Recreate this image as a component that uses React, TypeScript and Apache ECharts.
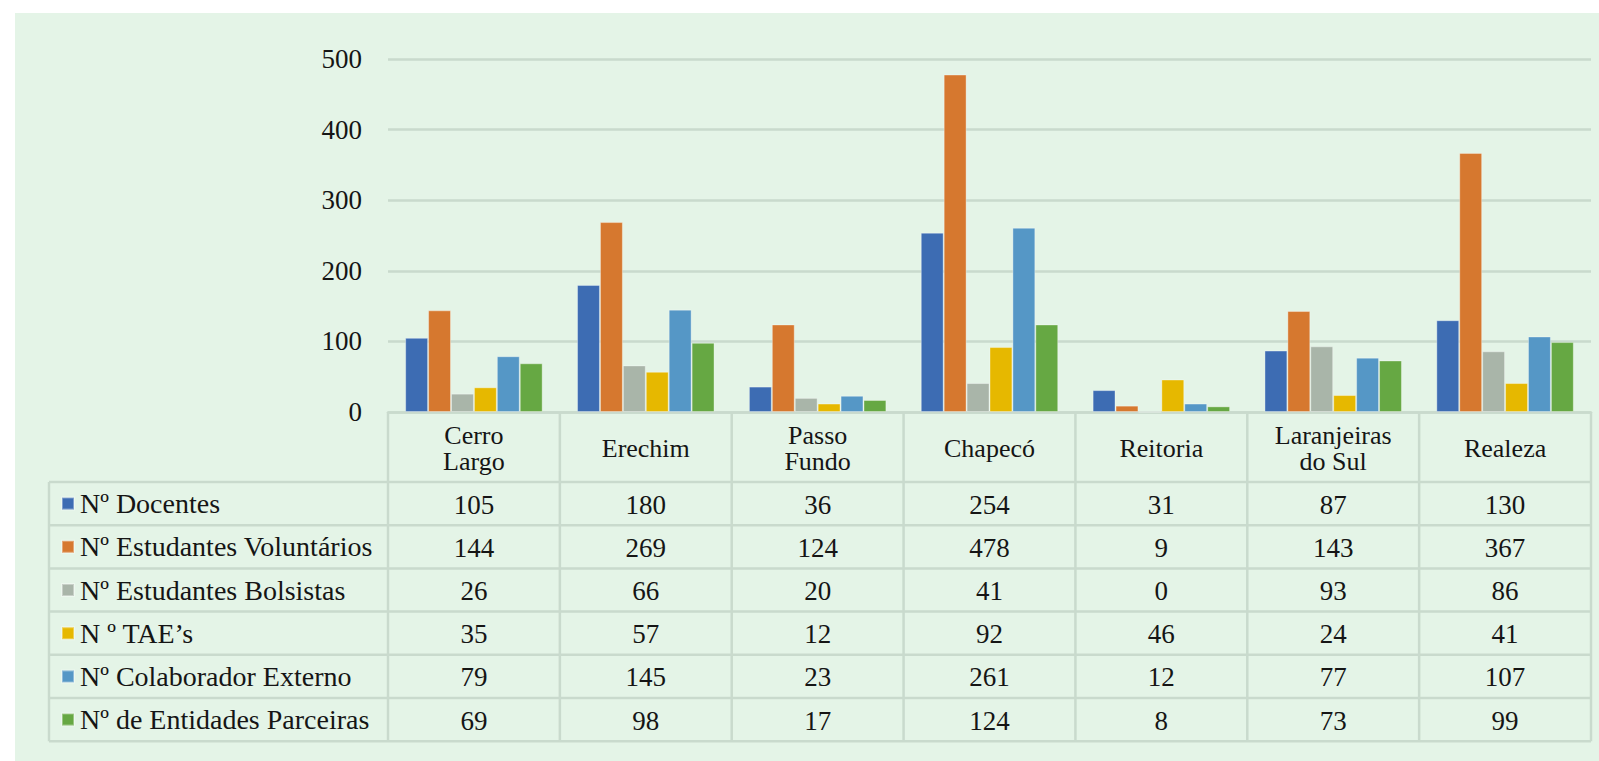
import React, { useEffect, useRef } from "react";
import * as echarts from "echarts";

const categories = ["Cerro\nLargo", "Erechim", "Passo\nFundo", "Chapecó", "Reitoria", "Laranjeiras\ndo Sul", "Realeza"];
const seriesNames = [
  "Nº Docentes",
  "Nº Estudantes Voluntários",
  "Nº Estudantes Bolsistas",
  "N º TAE’s",
  "Nº Colaborador Externo",
  "Nº de Entidades Parceiras",
];
const docentes = [105, 180, 36, 254, 31, 87, 130];
const voluntarios = [144, 269, 124, 478, 9, 143, 367];
const bolsistas = [26, 66, 20, 41, 0, 93, 86];
const taes = [35, 57, 12, 92, 46, 24, 41];
const colaborador = [79, 145, 23, 261, 12, 77, 107];
const entidades = [69, 98, 17, 124, 8, 73, 99];
const seriesValues = [docentes, voluntarios, bolsistas, taes, colaborador, entidades];
const colors = ["#3D6CB3", "#D6782F", "#A9B5A9", "#E6B800", "#5597C6", "#66A843"];

const FONT = "'Liberation Serif', 'Times New Roman', serif";
const W = 1599;
const H = 761;
const gridLeft = 388;
const gridRight = 1591;
const gridTop = 59;
const axisY = 412;
const headerBottom = 482;
const rowH = 43.2;
const tableLeft = 49;
const lineColor = "#C9DACD";
const textColor = "#151515";

export default function App() {
  const ref = useRef<HTMLDivElement>(null);
  useEffect(() => {
    document.body.style.margin = "0";
    const chart = echarts.init(ref.current!, null, { renderer: "svg" });
    const colW = (gridRight - gridLeft) / categories.length;
    const graphics: any[] = [];
    graphics.push({
      type: "rect",
      z: -100,
      shape: { x: 15, y: 13, width: W - 15, height: H - 13 },
      style: { fill: "#E4F4E7" },
    });
    // table horizontal lines
    for (let r = 0; r <= seriesNames.length; r++) {
      const y = headerBottom + r * rowH;
      graphics.push({
        type: "line",
        shape: { x1: tableLeft, y1: y, x2: gridRight, y2: y },
        style: { stroke: lineColor, lineWidth: 2.5 },
      });
    }
    // vertical lines
    graphics.push({
      type: "line",
      shape: { x1: tableLeft, y1: headerBottom, x2: tableLeft, y2: headerBottom + rowH * seriesNames.length },
      style: { stroke: lineColor, lineWidth: 2.5 },
    });
    for (let c = 0; c <= categories.length; c++) {
      const x = gridLeft + c * colW;
      graphics.push({
        type: "line",
        shape: { x1: x, y1: axisY, x2: x, y2: headerBottom + rowH * seriesNames.length },
        style: { stroke: lineColor, lineWidth: 2.5 },
      });
    }
    // values
    seriesValues.forEach((vals, r) => {
      vals.forEach((v, c) => {
        graphics.push({
          type: "text",
          x: gridLeft + (c + 0.5) * colW,
          y: headerBottom + (r + 0.5) * rowH + 1,
          style: {
            text: String(v),
            fill: textColor,
            font: `27px ${FONT}`,
            align: "center",
            verticalAlign: "middle",
          },
        });
      });
    });

    chart.setOption({
      animation: false,
      color: colors,
      grid: {
        left: gridLeft,
        right: W - gridRight,
        top: gridTop,
        bottom: H - axisY,
        containLabel: false,
      },
      legend: {
        orient: "vertical",
        left: 61,
        top: headerBottom + rowH / 2 - 14,
        itemWidth: 12,
        itemHeight: 12,
        itemGap: rowH - 28,
        icon: "rect",
        selectedMode: false,
        padding: 0,
        data: seriesNames,
        textStyle: { fontFamily: FONT, fontSize: 28, lineHeight: 28, color: textColor, padding: [0, 0, 0, 1] },
      },
      xAxis: {
        type: "category",
        data: categories,
        axisLine: { show: true, lineStyle: { color: lineColor, width: 2.5 } },
        axisTick: { show: false },
        axisLabel: {
          interval: 0,
          margin: 36,
          verticalAlign: "middle",
          fontFamily: FONT,
          fontSize: 26,
          lineHeight: 26,
          color: textColor,
        },
      },
      yAxis: {
        type: "value",
        min: 0,
        max: 500,
        interval: 100,
        axisLine: { show: false },
        axisTick: { show: false },
        splitLine: { lineStyle: { color: lineColor, width: 2.5 } },
        axisLabel: { margin: 26, fontFamily: FONT, fontSize: 27, color: textColor },
      },
      series: seriesNames.map((name, i) => ({
        name,
        type: "bar",
        data: seriesValues[i],
        barGap: "0%",
        barCategoryGap: "20%",
        itemStyle: { color: colors[i], borderColor: "rgba(255,255,255,0.35)", borderWidth: 1 },
      })),
      graphic: graphics,
    });
    return () => chart.dispose();
  }, []);
  return <div ref={ref} style={{ width: W, height: H, background: "#ffffff" }} />;
}
